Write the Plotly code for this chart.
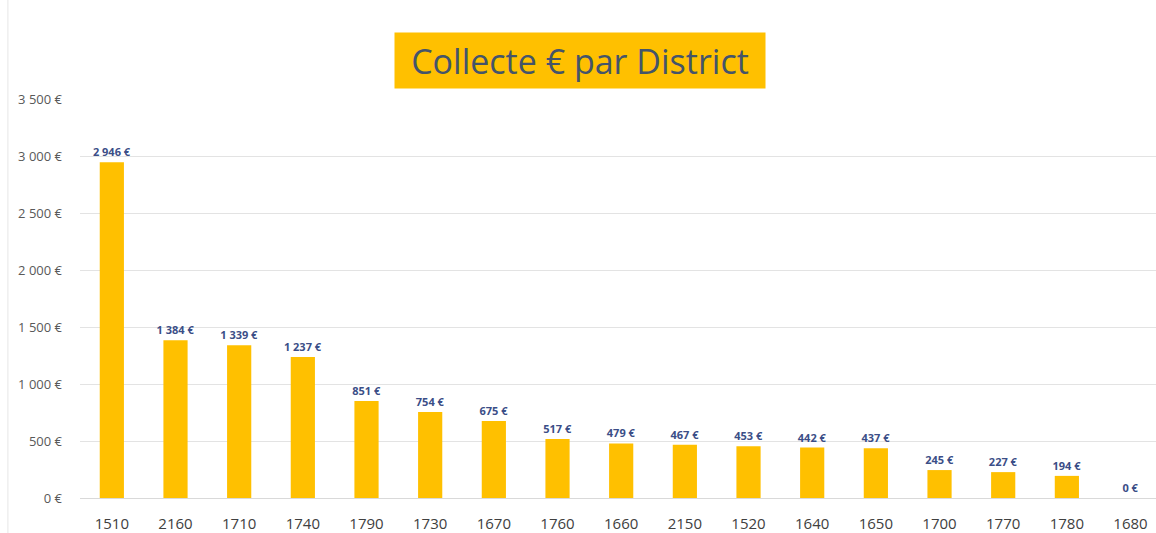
import plotly.graph_objects as go

districts = ["1510", "2160", "1710", "1740", "1790", "1730", "1670", "1760", "1660",
             "2150", "1520", "1640", "1650", "1700", "1770", "1780", "1680"]
collecte = [2946, 1384, 1339, 1237, 851, 754, 675, 517, 479,
            467, 453, 442, 437, 245, 227, 194, 0]
y_ticks = [0, 500, 1000, 1500, 2000, 2500, 3000, 3500]
y_tick_labels = ["0 €", "500 €", "1 000 €", "1 500 €", "2 000 €", "2 500 €", "3 000 €", "3 500 €"]
title_text = "Collecte € par District"

fig = go.Figure(go.Bar(
    x=districts, y=collecte,
    marker=dict(color="#FFC000", line=dict(width=0)),
    texttemplate="%{y:,d} €", textposition="outside",
    textfont=dict(family="Open Sans", size=11, color="#3B4E87", weight="bold"),
    constraintext="none",
    cliponaxis=False,
))

fig.update_layout(
    width=1156, height=533,
    margin=dict(l=80, r=0, t=99, b=35),
    paper_bgcolor="white", plot_bgcolor="white",
    separators=", ",
    bargap=0.62,
    showlegend=False,
    font=dict(family="Open Sans"),
    xaxis=dict(type="category", range=[-0.5, 16.4], showgrid=False,
               tickfont=dict(size=15, color="#404040"), ticklabelstandoff=15),
    yaxis=dict(range=[0, 3500], tickvals=y_ticks, ticktext=y_tick_labels,
               showgrid=True, gridcolor="#E3E3E3", gridwidth=1,
               zeroline=True, zerolinecolor="#D9D9D9", zerolinewidth=1,
               tickfont=dict(size=13, color="#595959"), ticklabelstandoff=17),
    annotations=[dict(
        text=title_text, xref="paper", yref="paper",
        x=(580 - 80) / 1076, y=(498 - 60.5) / 399, xanchor="center", yanchor="middle",
        showarrow=False, bgcolor="#FFC000", borderpad=4, width=362, height=47,
        font=dict(family="Open Sans", size=34, color="#44546A"),
    )],
    shapes=[dict(type="line", xref="paper", yref="paper",
                 x0=-0.067, x1=-0.067, y0=-0.1, y1=1.25,
                 line=dict(color="#E6E6E6", width=1))],
)

fig.write_html("out.html", config={"displayModeBar": False},
               post_script="document.body.style.margin='0';")
